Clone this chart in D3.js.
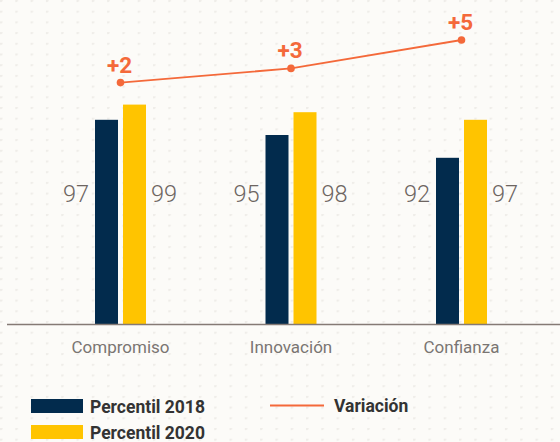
<!DOCTYPE html>
<html>
<head>
<meta charset="utf-8">
<script src="https://cdn.jsdelivr.net/npm/d3@7"></script>
<style>
  html, body { margin: 0; padding: 0; background: #fcfbf8; }
  svg { display: block; font-family: Roboto, sans-serif; }
</style>
</head>
<body>
<script>
// data
const categories = ["Compromiso", "Innovación", "Confianza"];
const series = ["Percentil 2018", "Percentil 2020"];
const values2018 = [97, 95, 92];
const values2020 = [99, 98, 97];
const variacion = [2, 3, 5];

const width = 560, height = 442;
const colors = { "Percentil 2018": "#022b4d", "Percentil 2020": "#ffc400" };
const orange = "#f4693a";

const svg = d3.select("body").append("svg")
    .attr("width", width)
    .attr("height", height);

// dotted background
const defs = svg.append("defs");
const pat = defs.append("pattern")
    .attr("id", "dots")
    .attr("patternUnits", "userSpaceOnUse")
    .attr("width", 15.3)
    .attr("height", 10.7);
pat.append("circle")
    .attr("cx", 1)
    .attr("cy", 0.5)
    .attr("r", 1.6)
    .attr("fill", "#efede9");
svg.append("rect")
    .attr("width", width)
    .attr("height", height)
    .attr("fill", "#fcfbf8");
svg.append("rect")
    .attr("width", width)
    .attr("height", height)
    .attr("fill", "url(#dots)");

// scales
const x0 = d3.scaleBand().domain(categories).range([35.25, 546.75]);
const x1 = d3.scaleBand().domain(series).range([-25.5, 25.5]).paddingInner(0.179);
const y = d3.scaleLinear().domain([70, 100]).range([325, 97]);
const yVar = d3.scaleLinear().domain([0, 5]).range([111, 40]);
const cx = c => x0(c) + x0.bandwidth() / 2;

const rows = categories.map((c, i) => ({
    cat: c,
    vals: [
        { s: series[0], v: values2018[i] },
        { s: series[1], v: values2020[i] }
    ],
    varv: variacion[i]
}));

// bars
const groups = svg.selectAll("g.grp")
    .data(rows)
    .enter().append("g")
    .attr("class", "grp")
    .attr("transform", d => `translate(${cx(d.cat)},0)`);

groups.selectAll("rect")
    .data(d => d.vals)
    .enter().append("rect")
    .attr("x", d => x1(d.s))
    .attr("y", d => y(d.v))
    .attr("width", x1.bandwidth())
    .attr("height", d => y(70) - y(d.v))
    .attr("fill", d => colors[d.s]);

// value labels beside the bars
groups.selectAll("text.val")
    .data(d => d.vals)
    .enter().append("text")
    .attr("class", "val")
    .attr("x", (d, i) => i === 0 ? x1(d.s) - 6 : x1(d.s) + x1.bandwidth() + 5)
    .attr("y", 201.5)
    .attr("text-anchor", (d, i) => i === 0 ? "end" : "start")
    .attr("font-size", 23.5)
    .attr("font-weight", 300)
    .attr("fill", "#6d6561")
    .text(d => d.v);

// baseline axis
svg.append("line")
    .attr("x1", 7).attr("x2", width)
    .attr("y1", 324.5).attr("y2", 324.5)
    .attr("stroke", "#857a75")
    .attr("stroke-width", 1.5);

// category labels
svg.selectAll("text.cat")
    .data(categories)
    .enter().append("text")
    .attr("class", "cat")
    .attr("x", d => cx(d))
    .attr("y", 353)
    .attr("text-anchor", "middle")
    .attr("font-size", 17)
    .attr("fill", "#7a7572")
    .text(d => d);

// variation line
const line = d3.line()
    .x(d => cx(d.cat))
    .y(d => yVar(d.varv));

svg.append("path")
    .datum(rows)
    .attr("d", line)
    .attr("fill", "none")
    .attr("stroke", orange)
    .attr("stroke-width", 1.8);

svg.selectAll("circle.pt")
    .data(rows)
    .enter().append("circle")
    .attr("class", "pt")
    .attr("cx", d => cx(d.cat))
    .attr("cy", d => yVar(d.varv))
    .attr("r", 3.8)
    .attr("fill", orange);

svg.selectAll("text.var")
    .data(rows)
    .enter().append("text")
    .attr("class", "var")
    .attr("x", d => cx(d.cat) - 1)
    .attr("y", d => yVar(d.varv) - 10)
    .attr("text-anchor", "middle")
    .attr("font-size", 22.5)
    .attr("font-weight", 700)
    .attr("fill", orange)
    .text(d => "+" + d.varv);

// legend
const legend = svg.append("g");
series.forEach((s, i) => {
    legend.append("rect")
        .attr("x", 31)
        .attr("y", 399 + i * 26)
        .attr("width", 52)
        .attr("height", 14)
        .attr("fill", colors[s]);
    legend.append("text")
        .attr("x", 90)
        .attr("y", 412.5 + i * 26)
        .attr("font-size", 17.5)
        .attr("font-weight", 700)
        .attr("fill", "#333")
        .text(s);
});
legend.append("line")
    .attr("x1", 270).attr("x2", 324)
    .attr("y1", 405.5).attr("y2", 405.5)
    .attr("stroke", orange)
    .attr("stroke-width", 2);
legend.append("text")
    .attr("x", 334)
    .attr("y", 411.5)
    .attr("font-size", 17.5)
    .attr("font-weight", 700)
    .attr("fill", "#333")
    .text("Variación");
</script>
</body>
</html>
